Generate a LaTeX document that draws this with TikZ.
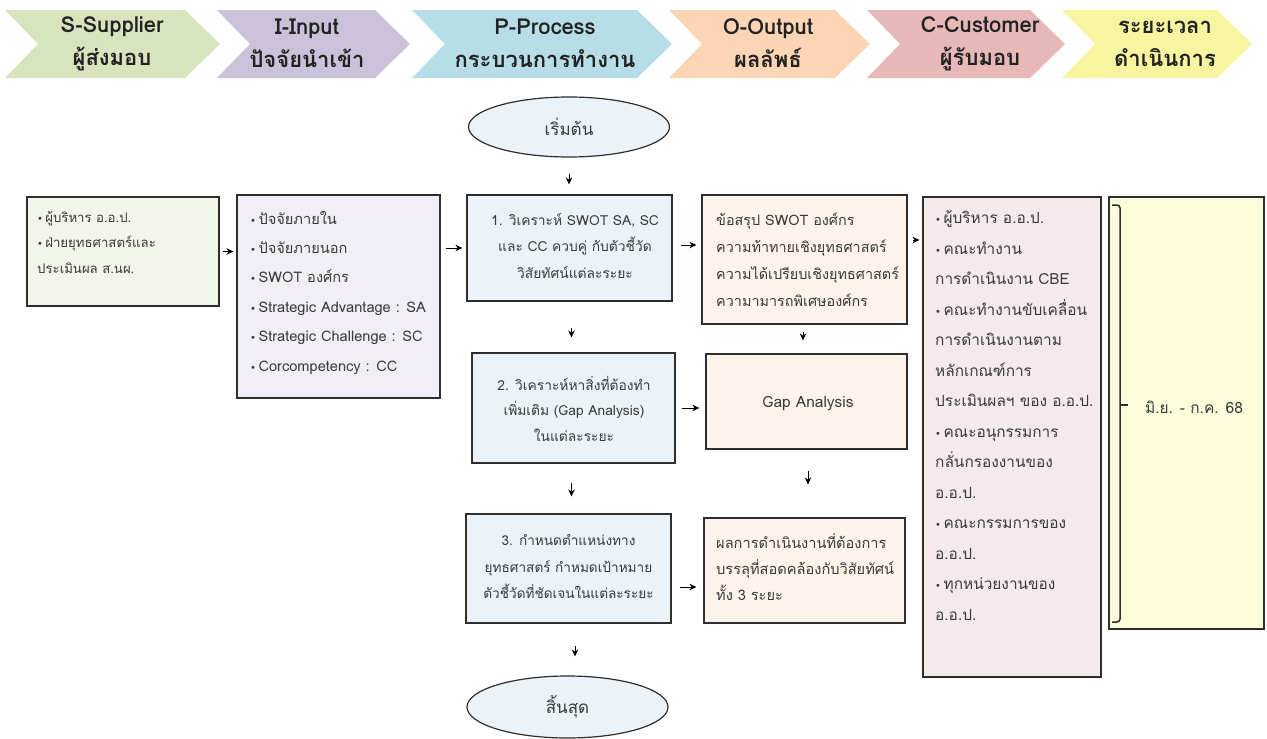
\documentclass[tikz,border=0pt]{standalone}
\usepackage{fontspec}
\setmainfont[Script=Thai]{Loma}
\newfontfamily\dvs{DejaVu Sans}
\usetikzlibrary{arrows.meta,calc,shapes.geometric}
\definecolor{cS}{HTML}{D7E4BD}
\definecolor{cI}{HTML}{CCC1DA}
\definecolor{cP}{HTML}{B7DEE8}
\definecolor{cO}{HTML}{FCD5B5}
\definecolor{cC}{HTML}{E6B9B8}
\definecolor{cT}{HTML}{F8F5A0}
\definecolor{fS}{HTML}{F2F5EA}
\definecolor{fI}{HTML}{F1EEF5}
\definecolor{fP}{HTML}{EBF3F9}
\definecolor{fO}{HTML}{FDF3EA}
\definecolor{fC}{HTML}{F4EAEA}
\definecolor{fT}{HTML}{FCFCDA}
\definecolor{bd}{HTML}{2E2E2E}
\definecolor{tx}{HTML}{3A3A3A}
\definecolor{hd}{HTML}{222222}
\newcommand\bul{{\dvs\fontsize{10}{10}\selectfont •}\,}
\tikzset{
  box/.style={draw=bd, line width=1.2pt, rectangle, inner sep=0pt},
  oval/.style={draw=bd, line width=1.2pt, ellipse, inner sep=0pt, fill=fP},
  btext/.style={text=tx, inner sep=0pt, font=\fontsize{14}{29.4}\selectfont},
  htext/.style={text=hd, align=center, inner sep=0pt, font=\bfseries\fontsize{22}{33}\selectfont},
  arr/.style={draw=black, line width=1pt, -{Stealth[length=7pt,width=6.5pt]}}
}
\newcommand\chevron[3]{%
  \fill[#3] (#1,10) -- ({#2-35},10) -- (#2,44) -- ({#2-35},78) -- (#1,78) -- ({#1+33},44) -- cycle;}
\begin{document}
\begin{tikzpicture}[x=1pt,y=-1pt]
\useasboundingbox (0,0) rectangle (1267,739);
\fill[white] (0,0) rectangle (1267,739);
% header chevrons
\chevron{5}{220}{cS}
\chevron{217}{410}{cI}
\chevron{412}{672}{cP}
\chevron{669}{870}{cO}
\chevron{867}{1065}{cC}
\chevron{1062}{1252}{cT}
\node[htext] (h1) at (112,43.5) {S-Supplier\\ผู้ส่งมอบ};
\node[htext] (h2) at (307,43.5) {I-Input\\ปัจจัยนำเข้า};
\node[htext] (h3) at (545,43.5) {P-Process\\กระบวนการทำงาน};
\node[htext] (h4) at (768,43.5) {O-Output\\ผลลัพธ์};
\node[htext] (h5) at (980,43.5) {C-Customer\\ผู้รับมอบ};
\node[htext] (h6) at (1165,43.5) {ระยะเวลา\\ดำเนินการ};
% boxes
\node[box, fill=fS, minimum width=192pt, minimum height=109pt] (sup) at (123,251.5) {};
\node[box, fill=fI, minimum width=203pt, minimum height=203pt] (inp) at (338.5,296.5) {};
\node[box, fill=fP, minimum width=205pt, minimum height=106pt] (p1) at (569.5,248) {};
\node[box, fill=fO, minimum width=205pt, minimum height=129pt] (o1) at (804.5,259.5) {};
\node[box, fill=fP, minimum width=203pt, minimum height=110pt] (p2) at (573.5,408) {};
\node[box, fill=fO, minimum width=201pt, minimum height=95pt] (o2) at (806.5,401.5) {};
\node[box, fill=fP, minimum width=205pt, minimum height=109pt] (p3) at (568.5,568.5) {};
\node[box, fill=fO, minimum width=201pt, minimum height=105pt] (o3) at (804.5,570.5) {};
\node[box, fill=fC, minimum width=178pt, minimum height=480pt] (cust) at (1012,437) {};
\node[box, fill=fT, minimum width=155pt, minimum height=432pt] (time) at (1186.5,413) {};
\node[oval, minimum width=201pt, minimum height=60pt, btext, font=\fontsize{17}{19}\selectfont] (start) at (569,127) {เริ่มต้น};
\node[oval, minimum width=201pt, minimum height=62pt, btext, font=\fontsize{17}{19}\selectfont] (endn) at (567.5,707) {สิ้นสุด};
% texts
\node[btext, align=left, anchor=west, font=\fontsize{13.2}{25.5}\selectfont] (tsup) at (37,242.5) {\bul ผู้บริหาร อ.อ.ป.\\\bul ฝ่ายยุทธศาสตร์และ\\ประเมินผล ส.นผ.};
\node[btext, align=left, anchor=west, font=\fontsize{14.6}{29.4}\selectfont] (tinp) at (250,292.5) {\bul ปัจจัยภายใน\\\bul ปัจจัยภายนอก\\\bul SWOT องศ์กร\\\bul Strategic Advantage : SA\\\bul Strategic Challenge : SC\\\bul Corcompetency : CC};
\node[btext, align=center, font=\fontsize{13.8}{26.5}\selectfont] (tp1) at (575,245.5) {1. วิเคราะห์ SWOT SA, SC\\และ CC ควบคู่ กับตัวชี้วัด\\วิสัยทัศน์แต่ละระยะ};
\node[btext, align=left, anchor=west, font=\fontsize{14.4}{27}\selectfont] (to1) at (716,259.5) {ข้อสรุป SWOT องศ์กร\\ความท้าทายเชิงยุทธศาสตร์\\ความได้เปรียบเชิงยุทธศาสตร์\\ความามารถพิเศษองศ์กร};
\node[btext, align=center, font=\fontsize{13.8}{25.5}\selectfont] (tp2) at (574,408.5) {2. วิเคราะห์หาสิ่งที่ต้องทำ\\เพิ่มเติม (Gap Analysis)\\ในแต่ละระยะ};
\node[btext, font=\fontsize{15.5}{18}\selectfont] (to2) at (808,404) {Gap Analysis};
\node[btext, align=center, font=\fontsize{13.6}{26.5}\selectfont] (tp3) at (568.5,566.5) {3. กำหนดตำแหน่งทาง\\ยุทธศาสตร์ กำหมดเป้าหมาย\\ตัวชี้วัดที่ชัดเจนในแต่ละระยะ};
\node[btext, align=left, anchor=west, font=\fontsize{14.6}{26}\selectfont] (to3) at (716,567) {ผลการดำเนินงานที่ต้องการ\\บรรลุที่สอดคล้องกับวิสัยทัศน์\\ทั้ง 3 ระยะ};
\node[btext, align=left, anchor=west, font=\fontsize{15.4}{30.5}\selectfont] (tcust) at (935,415.5) {\bul ผู้บริหาร อ.อ.ป.\\\bul คณะทำงาน\\การดำเนินงาน CBE\\\bul คณะทำงานขับเคลื่อน\\การดำเนินงานตาม\\หลักเกณฑ์การ\\ประเมินผลฯ ของ อ.อ.ป.\\\bul คณะอนุกรรมการ\\กลั่นกรองงานของ\\อ.อ.ป.\\\bul คณะกรรมการของ\\อ.อ.ป.\\\bul ทุกหน่วยงานของ\\อ.อ.ป.};
\node[btext, font=\fontsize{15.5}{18}\selectfont] (ttime) at (1194,407) {มิ.ย. - ก.ค. 68};
% bracket in time box
\draw[bd, line width=1.5pt, rounded corners=3pt] (1112,205) -- (1120,205) -- (1120,622) -- (1112,622);
\draw[bd, line width=1.5pt] (1120,405) -- (1128,405);
% arrows
\draw[arr, shorten <=3pt, shorten >=3pt] (sup.east) -- (sup.east -| inp.west);
\draw[arr, shorten <=5pt, shorten >=4pt] (inp.east |- p1.west) -- (p1.west);
\draw[arr, shorten <=8pt, shorten >=5pt] ([yshift=3pt]p1.east) -- ([yshift=3pt]p1.east -| o1.west);
\draw[arr, shorten <=5pt, shorten >=3pt] ([yshift=19.5pt]o1.east) -- ([yshift=19.5pt]o1.east -| cust.west);
\draw[arr, shorten <=6pt, shorten >=6pt] (p2.east) -- (p2.east -| o2.west);
\draw[arr, shorten <=8pt, shorten >=7pt] ([yshift=-18.5pt]p3.east) -- ([yshift=-18.5pt]p3.east -| o3.west);
\draw[arr, shorten <=16pt, shorten >=10pt] (start.south) -- (start.south |- p1.north);
\draw[arr, shorten <=26pt, shorten >=15pt] ([xshift=2pt]p1.south) -- ([xshift=2pt]p1.south |- p2.north);
\draw[arr, shorten <=7pt, shorten >=13pt] ([xshift=-1.5pt]o1.south) -- ([xshift=-1.5pt]o1.south |- o2.north);
\draw[arr, shorten <=19pt, shorten >=17pt] ([xshift=-2pt]p2.south) -- ([xshift=-2pt]p2.south |- p3.north);
\draw[arr, shorten <=21pt, shorten >=33pt] ([xshift=1.5pt]o2.south) -- ([xshift=1.5pt]o2.south |- o3.north);
\draw[arr, shorten <=22pt, shorten >=19pt] ([xshift=6.5pt]p3.south) -- ([xshift=6.5pt]p3.south |- endn.north);
\end{tikzpicture}
\end{document}
